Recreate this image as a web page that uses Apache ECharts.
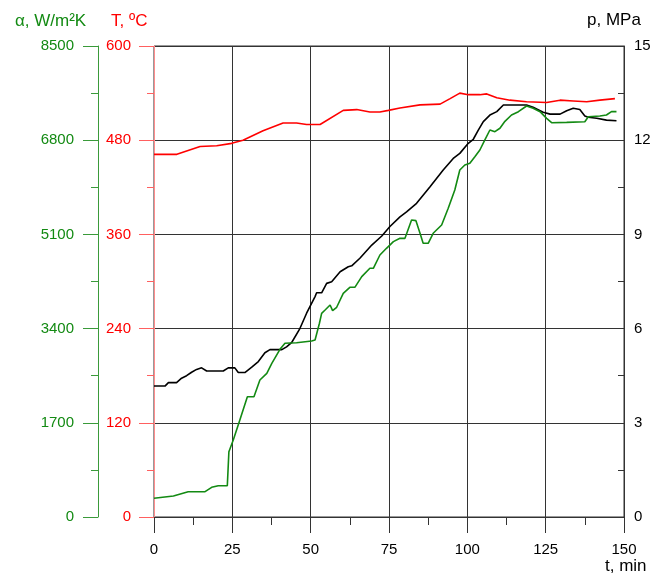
<!DOCTYPE html>
<html>
<head>
<meta charset="utf-8">
<script src="https://cdn.jsdelivr.net/npm/echarts@6/dist/echarts.min.js"></script>
<style>
  html, body { margin: 0; padding: 0; background: #fff; }
  #chart { width: 654px; height: 576px; }
</style>
</head>
<body>
<div id="chart"></div>
<script>
// Time axis ticks, min
const timeTicks = [0, 25, 50, 75, 100, 125, 150];

// Temperature T, °C
const tempTime = [0, 7.3, 14.7, 20, 24.8, 28.4, 34.8, 41.2, 45.5, 48.7, 53, 60.4, 64.7, 68.9, 72.1, 74.8, 78.5, 84.9, 91.3, 94.5, 97.6, 100.3, 104, 106.2, 109.4, 113.6, 118.9, 125.3, 129.6, 133.8, 138.1, 142.3, 147.1];
const tempValues = [462, 462, 472, 473, 476, 480, 492, 502, 502, 500, 500, 518, 519, 516, 516, 518, 521, 525, 526, 533, 540, 538, 538, 539, 534, 531, 529, 528, 531, 530, 529, 531, 533];

// Pressure p, MPa
const presTime = [0, 3.5, 4.6, 7.2, 8.8, 10.4, 12, 13.6, 15.2, 16.8, 22.1, 23.7, 25.8, 26.9, 29, 31.2, 33.3, 35.4, 37, 40.8, 42.3, 43.9, 46.6, 48.7, 51.4, 51.9, 53.5, 55.1, 56.7, 59.4, 62, 63.1, 65.7, 69.5, 72.7, 75.3, 78.5, 80.6, 83.8, 88.1, 92.3, 95.5, 97.6, 100.3, 101.9, 103.5, 105.1, 107.2, 109.4, 111.5, 118.9, 121, 124.2, 126.4, 129.6, 131.7, 133.8, 135.9, 137.5, 138.6, 141.3, 144.4, 147.6];
const presValues = [4.17, 4.17, 4.28, 4.28, 4.42, 4.5, 4.61, 4.7, 4.75, 4.65, 4.65, 4.75, 4.75, 4.6, 4.6, 4.77, 4.95, 5.23, 5.33, 5.33, 5.42, 5.55, 6.01, 6.49, 7.02, 7.14, 7.14, 7.44, 7.49, 7.81, 7.97, 8.0, 8.24, 8.66, 8.95, 9.25, 9.56, 9.72, 9.99, 10.52, 11.05, 11.42, 11.58, 11.9, 12.03, 12.32, 12.59, 12.8, 12.91, 13.12, 13.12, 13.05, 12.89, 12.83, 12.83, 12.94, 13.02, 12.98, 12.77, 12.73, 12.7, 12.64, 12.62];

// Heat transfer coefficient alpha, W/m2K
const alphaTime = [0, 6.2, 10.9, 16.3, 18.4, 20.5, 23.4, 23.9, 25.3, 27.4, 29.8, 31.9, 33.8, 36, 37.6, 40.2, 41.8, 45.5, 50.3, 51.4, 52.8, 53.5, 54.6, 56.2, 57, 58.3, 60.4, 62.5, 64.1, 66.3, 68.9, 70, 72.1, 74.2, 76.4, 78.5, 80.1, 82.2, 83.6, 84.9, 85.9, 87.5, 89.1, 91.8, 93.9, 96, 97.6, 99.2, 100.8, 102.4, 104, 105.6, 107.2, 108.8, 110.4, 112, 114.1, 116.3, 118.9, 121, 123.2, 125.3, 126.9, 131.7, 137.5, 138.6, 142.3, 144.4, 146, 147.6];
const alphaValues = [337, 379, 457, 457, 536, 565, 565, 1179, 1390, 1751, 2171, 2171, 2472, 2593, 2774, 3026, 3135, 3146, 3176, 3194, 3496, 3676, 3736, 3826, 3724, 3785, 4037, 4145, 4145, 4337, 4488, 4488, 4728, 4849, 4969, 5029, 5029, 5360, 5348, 5120, 4940, 4940, 5120, 5270, 5571, 5901, 6262, 6353, 6383, 6502, 6623, 6804, 6984, 6954, 7015, 7141, 7255, 7315, 7417, 7376, 7315, 7195, 7116, 7122, 7134, 7224, 7237, 7255, 7315, 7315];

// Axis ranges and tick steps
const tempAxis = { min: 0, max: 600, step: 120 };
const alphaAxis = { min: 0, max: 8500, step: 1700 };
const presAxis = { min: 0, max: 15, step: 3 };

const zip = (xs, ys) => xs.map((x, i) => [x, ys[i]]);
const plain = v => String(v);

const FONT = 'Liberation Sans, Arial, sans-serif';
const RED = '#ff0000';
const GREEN = '#138a13';
const GRID = '#333333';
const LABEL_SIZE = 15;
const TITLE_FONT = '17px ' + FONT;

const chart = echarts.init(document.getElementById('chart'), null, { renderer: 'canvas' });

chart.setOption({
  animation: false,
  backgroundColor: '#ffffff',
  textStyle: { fontFamily: FONT },
  grid: { left: 154, right: 30, top: 46, bottom: 59, show: true, borderColor: GRID, borderWidth: 1, backgroundColor: 'transparent' },
  xAxis: {
    type: 'value',
    min: timeTicks[0],
    max: timeTicks[timeTicks.length - 1],
    interval: timeTicks[1] - timeTicks[0],
    axisLine: { show: true, onZero: false, lineStyle: { color: GRID, width: 1 } },
    axisTick: { show: true, inside: false, length: 16, lineStyle: { color: GRID } },
    minorTick: { show: true, splitNumber: 2, length: 8, lineStyle: { color: GRID } },
    splitLine: { show: true, lineStyle: { color: GRID, width: 1 } },
    axisLabel: { color: '#000', fontSize: LABEL_SIZE, fontFamily: FONT, margin: 25, formatter: plain }
  },
  yAxis: [
    {
      type: 'value',
      position: 'left',
      min: tempAxis.min, max: tempAxis.max, interval: tempAxis.step,
      axisLine: { show: true, lineStyle: { color: '#ff8c8c', width: 1 } },
      axisTick: { show: true, inside: false, length: 15, lineStyle: { color: '#ff6060' } },
      minorTick: { show: true, splitNumber: 2, length: 7, lineStyle: { color: '#ff6060' } },
      splitLine: { show: true, lineStyle: { color: GRID, width: 1 } },
      axisLabel: { color: RED, fontSize: LABEL_SIZE, fontFamily: FONT, margin: 23, formatter: plain }
    },
    {
      type: 'value',
      position: 'left',
      offset: 56,
      min: alphaAxis.min, max: alphaAxis.max, interval: alphaAxis.step,
      axisLine: { show: true, lineStyle: { color: '#3a9a3a', width: 1 } },
      axisTick: { show: true, inside: false, length: 15, lineStyle: { color: '#3a9a3a' } },
      minorTick: { show: true, splitNumber: 2, length: 7, lineStyle: { color: '#3a9a3a' } },
      splitLine: { show: false },
      axisLabel: { color: GREEN, fontSize: LABEL_SIZE, fontFamily: FONT, margin: 24, formatter: plain }
    },
    {
      type: 'value',
      position: 'right',
      min: presAxis.min, max: presAxis.max, interval: presAxis.step,
      axisLine: { show: true, lineStyle: { color: GRID, width: 1 } },
      axisTick: { show: true, inside: true, length: 6, lineStyle: { color: GRID } },
      minorTick: { show: true, splitNumber: 2, length: 6, lineStyle: { color: GRID } },
      splitLine: { show: false },
      axisLabel: { color: '#000', fontSize: LABEL_SIZE, fontFamily: FONT, margin: 10, formatter: plain }
    }
  ],
  graphic: [
    { type: 'text', left: 15, top: 13, style: { text: 'α, W/m²K', fill: GREEN, font: TITLE_FONT } },
    { type: 'text', left: 111, top: 13, style: { text: 'T, ºC', fill: RED, font: TITLE_FONT } },
    { type: 'text', left: 587, top: 12, style: { text: 'p, MPa', fill: '#000', font: TITLE_FONT } },
    { type: 'text', left: 605, top: 558, style: { text: 't, min', fill: '#000', font: TITLE_FONT } }
  ],
  series: [
    {
      name: 'T', type: 'line', yAxisIndex: 0, showSymbol: false,
      lineStyle: { color: RED, width: 1.6 }, itemStyle: { color: RED },
      data: zip(tempTime, tempValues)
    },
    {
      name: 'p', type: 'line', yAxisIndex: 2, showSymbol: false,
      lineStyle: { color: '#000', width: 1.6 }, itemStyle: { color: '#000' },
      data: zip(presTime, presValues)
    },
    {
      name: 'α', type: 'line', yAxisIndex: 1, showSymbol: false,
      lineStyle: { color: GREEN, width: 1.6 }, itemStyle: { color: GREEN },
      data: zip(alphaTime, alphaValues)
    }
  ]
});
</script>
</body>
</html>
